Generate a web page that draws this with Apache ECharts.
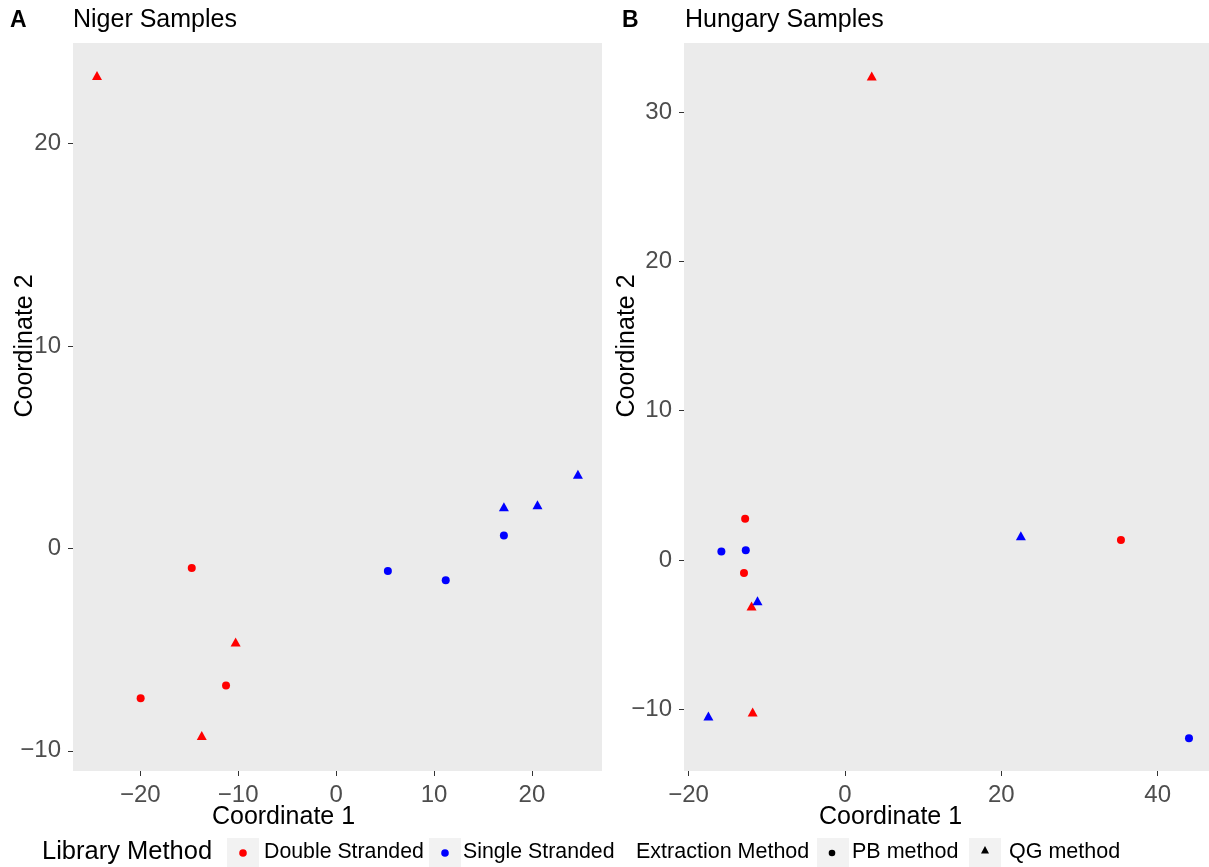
<!DOCTYPE html>
<html>
<head>
<meta charset="utf-8">
<title>Niger / Hungary Samples</title>
<script src="https://cdn.jsdelivr.net/npm/echarts@6/dist/echarts.min.js"></script>
<style>
  html, body { margin: 0; padding: 0; background: #fff; }
  #chart { width: 1209px; height: 867px; }
</style>
</head>
<body>
<div id="chart"></div>
<script>
// Niger samples: [coordinate 1, coordinate 2]
const nigerDoublePB = [[-14.74, -0.97], [-11.24, -6.77], [-19.96, -7.40]]
const nigerDoubleQG = [[-24.42, 23.36], [-10.26, -4.63], [-13.72, -9.25]]
const nigerSinglePB = [[5.29, -1.12], [11.20, -1.58], [17.14, 0.64]]
const nigerSingleQG = [[17.14, 2.06], [20.57, 2.16], [24.70, 3.66]]

// Hungary samples
const hungaryDoublePB = [[-12.76, 2.76], [-12.91, -0.87], [35.3, 1.34]]
const hungaryDoubleQG = [[3.43, 32.42], [-11.94, -3.08], [-11.80, -10.18]]
const hungarySinglePB = [[-15.8, 0.58], [-12.68, 0.65], [44.0, -11.94]]
const hungarySingleQG = [[-11.18, -2.73], [-17.46, -10.45], [22.5, 1.63]]

const nigerXTicks = [-20, -10, 0, 10, 20]
const nigerYTicks = [-10, 0, 10, 20]
const hungaryXTicks = [-20, 0, 20, 40]
const hungaryYTicks = [-10, 0, 10, 20, 30]

const FONT = '"Liberation Sans", Arial, Helvetica, sans-serif'
const RED = '#FF0000'
const BLUE = '#0000FF'

const chart = echarts.init(document.getElementById('chart'))

const minus = (v) => String(v).replace('-', '\u2212')

function xAxis(gridIndex, min, max, ticks, shift) {
  return {
    gridIndex,
    type: 'value',
    min,
    max,
    splitLine: { show: false },
    axisLine: { show: false, onZero: false },
    axisTick: { show: true, length: 5, customValues: ticks, lineStyle: { color: '#333333', width: 1 } },
    axisLabel: { customValues: ticks, formatter: minus, color: '#4D4D4D', fontSize: 24, fontFamily: FONT, margin: 12 },
    name: 'Coordinate 1',
    nameLocation: 'middle',
    nameGap: 34,
    nameMoveOverlap: false,
    nameTextStyle: { color: '#000', fontSize: 25, fontFamily: FONT, padding: [0, shift, 0, 0] },
  }
}

function yAxis(gridIndex, min, max, ticks, gap) {
  return {
    gridIndex,
    type: 'value',
    min,
    max,
    splitLine: { show: false },
    axisLine: { show: false, onZero: false },
    axisTick: { show: true, length: 5, customValues: ticks, lineStyle: { color: '#333333', width: 1 } },
    axisLabel: { customValues: ticks, formatter: minus, color: '#4D4D4D', fontSize: 24, fontFamily: FONT, margin: 12 },
    name: 'Coordinate 2',
    nameLocation: 'middle',
    nameGap: gap,
    nameMoveOverlap: false,
    nameTextStyle: { color: '#000', fontSize: 25, fontFamily: FONT, padding: [0, 0, 0, 122] },
  }
}

function points(idx, data, color, shape) {
  return {
    type: 'scatter',
    xAxisIndex: idx,
    yAxisIndex: idx,
    data,
    symbol: shape,
    symbolSize: shape === 'circle' ? 8 : [10, 9],
    itemStyle: { color, opacity: 1 },
    silent: true,
  }
}

// legend drawn by hand (colour key + shape key like ggplot)
function keyBox(x) {
  return { type: 'rect', shape: { x, y: 838, width: 32, height: 30 }, style: { fill: '#F2F2F2' } }
}
function label(x, text, size) {
  return { type: 'text', x, y: 852, style: { text, font: size + 'px ' + FONT, fill: '#000', verticalAlign: 'middle' } }
}

const option = {
  backgroundColor: '#fff',
  animation: false,
  title: [
    { text: 'A', left: 10, top: 9, padding: 0, textStyle: { fontSize: 23, fontWeight: 'bold', color: '#000', fontFamily: FONT } },
    { text: 'Niger Samples', left: 73, top: 8, padding: 0, textStyle: { fontSize: 25, fontWeight: 'normal', color: '#000', fontFamily: FONT } },
    { text: 'B', left: 622, top: 9, padding: 0, textStyle: { fontSize: 23, fontWeight: 'bold', color: '#000', fontFamily: FONT } },
    { text: 'Hungary Samples', left: 685, top: 8, padding: 0, textStyle: { fontSize: 25, fontWeight: 'normal', color: '#000', fontFamily: FONT } },
  ],
  grid: [
    { left: 73, top: 43, width: 529, height: 728, show: true, backgroundColor: '#EBEBEB', borderWidth: 0, outerBoundsMode: 'none', containLabel: false },
    { left: 684, top: 43, width: 525, height: 728, show: true, backgroundColor: '#EBEBEB', borderWidth: 0, outerBoundsMode: 'none', containLabel: false },
  ],
  xAxis: [
    xAxis(0, -26.87, 27.16, nigerXTicks, 108),
    xAxis(1, -20.58, 46.56, hungaryXTicks, 112),
  ],
  yAxis: [
    yAxis(0, -11.0, 24.97, nigerYTicks, 35),
    yAxis(1, -14.13, 34.63, hungaryYTicks, 44),
  ],
  series: [
    points(0, nigerDoublePB, RED, 'circle'),
    points(0, nigerDoubleQG, RED, 'triangle'),
    points(0, nigerSinglePB, BLUE, 'circle'),
    points(0, nigerSingleQG, BLUE, 'triangle'),
    points(1, hungaryDoublePB, RED, 'circle'),
    points(1, hungaryDoubleQG, RED, 'triangle'),
    points(1, hungarySinglePB, BLUE, 'circle'),
    points(1, hungarySingleQG, BLUE, 'triangle'),
  ],
  graphic: [
    label(42, 'Library Method', 25.5),
    keyBox(227),
    { type: 'circle', shape: { cx: 243, cy: 853, r: 3.8 }, style: { fill: RED } },
    label(264, 'Double Stranded', 21.3),
    keyBox(429),
    { type: 'circle', shape: { cx: 445, cy: 853, r: 3.8 }, style: { fill: BLUE } },
    label(463, 'Single Stranded', 21.3),
    label(636, 'Extraction Method', 21.5),
    keyBox(817),
    { type: 'circle', shape: { cx: 832, cy: 853, r: 3.3 }, style: { fill: '#000' } },
    label(852, 'PB method', 21.5),
    keyBox(969),
    { type: 'polygon', shape: { points: [[985, 846], [981, 853.5], [989, 853.5]] }, style: { fill: '#000' } },
    label(1009, 'QG method', 21.5),
  ],
}

chart.setOption(option)
</script>
</body>
</html>
